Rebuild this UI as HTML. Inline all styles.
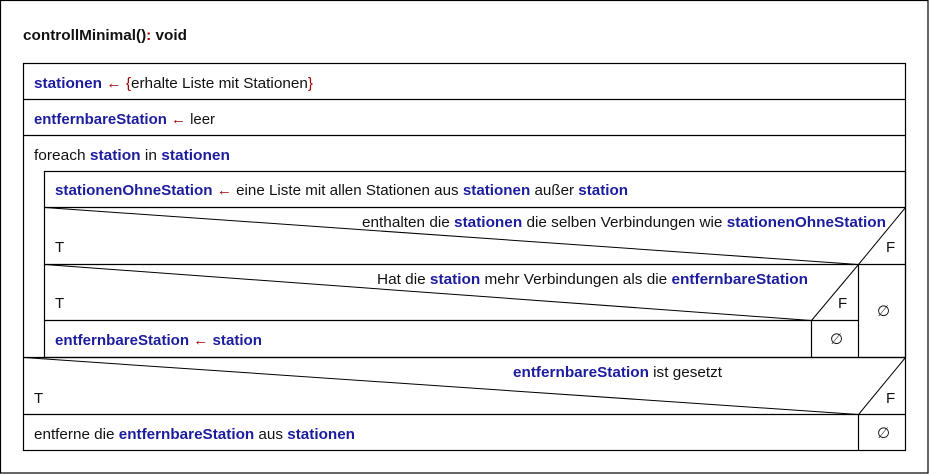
<!DOCTYPE html>
<html><head><meta charset="utf-8"><style>
html,body{margin:0;padding:0;background:#fff;}
svg{display:block;}
text{font-family:"Liberation Sans","DejaVu Sans",sans-serif;font-size:15px;fill:#111;}
.b{fill:#1c1c9e;font-weight:bold;}
.r{fill:#a00000;}
.k{font-weight:bold;fill:#111;}
</style></head><body>
<svg width="929" height="474" viewBox="0 0 929 474" xmlns="http://www.w3.org/2000/svg">
<g fill="none" stroke="#000" stroke-width="1.2">
<rect x="0.5" y="0.5" width="927.5" height="472.5"/>
<rect x="23.5" y="63.5" width="882" height="387"/>
<line x1="23.5" y1="99.5" x2="905.5" y2="99.5"/>
<line x1="23.5" y1="135.5" x2="905.5" y2="135.5"/>
<rect x="44.5" y="171.5" width="861" height="186"/>
<line x1="44.5" y1="207.5" x2="905.5" y2="207.5"/>
<line x1="44.5" y1="264.5" x2="905.5" y2="264.5"/>
<line x1="44.5" y1="320.5" x2="858.5" y2="320.5"/>
<line x1="23.5" y1="357.5" x2="905.5" y2="357.5"/>
<line x1="23.5" y1="414.5" x2="905.5" y2="414.5"/>
<line x1="44.5" y1="207.5" x2="858.5" y2="264.5" stroke-width="1"/>
<line x1="905.5" y1="207.5" x2="858.5" y2="264.5" stroke-width="1"/>
<line x1="858.5" y1="264.5" x2="858.5" y2="357.5"/>
<line x1="44.5" y1="264.5" x2="811.5" y2="320.5" stroke-width="1"/>
<line x1="858.5" y1="264.5" x2="811.5" y2="320.5" stroke-width="1"/>
<line x1="811.5" y1="320.5" x2="811.5" y2="357.5"/>
<line x1="23.5" y1="357.5" x2="858.5" y2="414.5" stroke-width="1"/>
<line x1="905.5" y1="357.5" x2="858.5" y2="414.5" stroke-width="1"/>
<line x1="858.5" y1="414.5" x2="858.5" y2="450.5"/>
</g>
<text x="23" y="40" class="k" textLength="164" lengthAdjust="spacingAndGlyphs">controllMinimal()<tspan class="r">:</tspan> void</text>
<text x="34" y="88" textLength="279" lengthAdjust="spacingAndGlyphs"><tspan class="b">stationen</tspan> <tspan class="r">← {</tspan>erhalte Liste mit Stationen<tspan class="r">}</tspan></text>
<text x="34" y="124" textLength="181" lengthAdjust="spacingAndGlyphs"><tspan class="b">entfernbareStation</tspan> <tspan class="r">←</tspan> leer</text>
<text x="34" y="160" textLength="196" lengthAdjust="spacingAndGlyphs">foreach <tspan class="b">station</tspan> in <tspan class="b">stationen</tspan></text>
<text x="55" y="195" textLength="573" lengthAdjust="spacingAndGlyphs"><tspan class="b">stationenOhneStation</tspan> <tspan class="r">←</tspan> eine Liste mit allen Stationen aus <tspan class="b">stationen</tspan> außer <tspan class="b">station</tspan></text>
<text x="362" y="227" textLength="524" lengthAdjust="spacingAndGlyphs">enthalten die <tspan class="b">stationen</tspan> die selben Verbindungen wie <tspan class="b">stationenOhneStation</tspan></text>
<text x="55" y="252">T</text>
<text x="886" y="252">F</text>
<text x="377" y="284" textLength="431" lengthAdjust="spacingAndGlyphs">Hat die <tspan class="b">station</tspan> mehr Verbindungen als die <tspan class="b">entfernbareStation</tspan></text>
<text x="55" y="308">T</text>
<text x="838" y="308">F</text>
<text x="877" y="316">∅</text>
<text x="55" y="345" textLength="207" lengthAdjust="spacingAndGlyphs"><tspan class="b">entfernbareStation</tspan> <tspan class="r">←</tspan> <tspan class="b">station</tspan></text>
<text x="830" y="344">∅</text>
<text x="513" y="377" textLength="209" lengthAdjust="spacingAndGlyphs"><tspan class="b">entfernbareStation</tspan> ist gesetzt</text>
<text x="34" y="403">T</text>
<text x="886" y="403">F</text>
<text x="34" y="439" textLength="321" lengthAdjust="spacingAndGlyphs">entferne die <tspan class="b">entfernbareStation</tspan> aus <tspan class="b">stationen</tspan></text>
<text x="877" y="438">∅</text>
</svg>
</body></html>
